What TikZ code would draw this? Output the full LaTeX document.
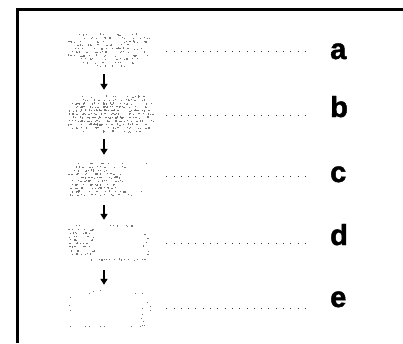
\documentclass[tikz,border=0pt]{standalone}
\usepackage{fontspec}
\setmainfont{Liberation Sans}
\newfontfamily\lettfont[FakeBold=1.6]{Liberation Sans Bold}
\usetikzlibrary{arrows.meta}
\newcommand\stiprow[4]{%
  \foreach \k in {1,...,#4}{%
    \pgfmathsetmacro\rx{#2+rnd*(#3-#2)}%
    \pgfmathsetmacro\ry{#1+(rnd-0.5)*1.4}%
    \fill[speck] (\rx,\ry) rectangle ++(1.2,1.2);}}
\begin{document}
\begin{tikzpicture}[x=1pt,y=-1pt,
  speck/.style={fill=black!55},
  boxarea/.style={inner sep=0pt,minimum width=85pt},
  arr/.style={line width=2.6pt,-{Triangle[width=7pt,length=6pt]}},
  leader/.style={line width=1pt,dash pattern=on 1pt off 6.3pt,black!80,shorten <=13pt,shorten >=18pt},
  letter/.style={inner sep=0pt,anchor=base west,font=\fontsize{29}{29}\lettfont}]
\useasboundingbox (0,0) rectangle (403,343);
\pgfmathsetseed{7}
% frame
\draw[line width=2.8pt] (17.5,343) -- (17.5,9.5) -- (403,9.5);
% invisible box nodes
\node[boxarea,minimum height=34pt] (boxA) at (110.5,51) {};
\node[boxarea,minimum height=36pt] (boxB) at (110.5,115) {};
\node[boxarea,minimum height=34pt] (boxC) at (110.5,176) {};
\node[boxarea,minimum height=34pt] (boxD) at (110.5,243) {};
\node[boxarea,minimum height=36pt] (boxE) at (110.5,308) {};
% letters
\node[letter] (la) at (330,59) {a};
\node[letter] (lb) at (330,117) {b};
\node[letter] (lc) at (330,182) {c};
\node[letter] (ld) at (330,245) {d};
\node[letter] (le) at (330,307) {e};
% stipple a
\foreach \y/\xa/\xb/\n in {34/75/145/12,37.5/70/150/17,41/68/153/17,44.5/72/148/15,48/72/150/17,51.5/70/150/17,55/68/148/17,58.5/72/145/12,62/80/135/10,65.5/95/130/7}{\stiprow{\y}{\xa}{\xb}{\n}}
% stipple b
\foreach \y/\xa/\xb/\n in {96/78/145/12,99.5/72/150/20,103/68/153/28,106.5/68/153/32,110/68/153/36,113.5/68/153/36,117/68/153/36,120.5/68/153/36,124/68/153/32,127.5/68/150/28,131/80/140/12}{\stiprow{\y}{\xa}{\xb}{\n}}
% stipple c
\foreach \y/\xa/\xb/\n in {163/68/128/9,166.5/68/125/13,170/68/120/13,173.5/68/120/15,177/72/122/19,180.5/68/122/19,184/68/122/19,187.5/68/122/17,191/68/130/15,194.5/68/140/15}{\stiprow{\y}{\xa}{\xb}{\n}}
\fill[speck] (146,163) rectangle ++(1.2,1.2);
\fill[speck] (141,191) rectangle ++(1.2,1.2);
% stipple d
\stiprow{225}{75}{140}{11}
\foreach \y in {229,232.5,236,239.5,243,246.5,250,253.5}{\stiprow{\y}{68}{94}{7}}
\foreach \y in {234,238,242,246,250,254}{\stiprow{\y}{141}{149}{1}}
\stiprow{259}{68}{146}{17}
% stipple e
\foreach \px/\py in {89/293,93/291,100/290,135/293,142/293,147/302,142/308,150/306,142/314,141/318,143/321,142/325,70/297,69/305,70/310,70/326,85/326,89/326,100/326,104/326,131/326,140/326,144/325,150/310}{\fill[speck] (\px,\py) rectangle ++(1.2,1.2);}
% arrows
\draw[arr,shorten <=6pt,shorten >=7pt] (boxA.south -| 104,0) -- (boxB.north -| 104,0);
\draw[arr,shorten <=6pt,shorten >=4pt] (boxB.south -| 104,0) -- (boxC.north -| 104,0);
\draw[arr,shorten <=12pt,shorten >=6pt] (boxC.south -| 104,0) -- (boxD.north -| 104,0);
\draw[arr,shorten <=10pt,shorten >=5pt] (boxD.south -| 104,0) -- (boxE.north -| 104,0);
% leaders
\draw[leader] (boxA.east) -- (boxA.east -| la.west);
\draw[leader] (boxB.east) -- (boxB.east -| lb.west);
\draw[leader] (boxC.east) -- (boxC.east -| lc.west);
\draw[leader] (boxD.east) -- (boxD.east -| ld.west);
\draw[leader] (boxE.east) -- (boxE.east -| le.west);
\end{tikzpicture}
\end{document}
